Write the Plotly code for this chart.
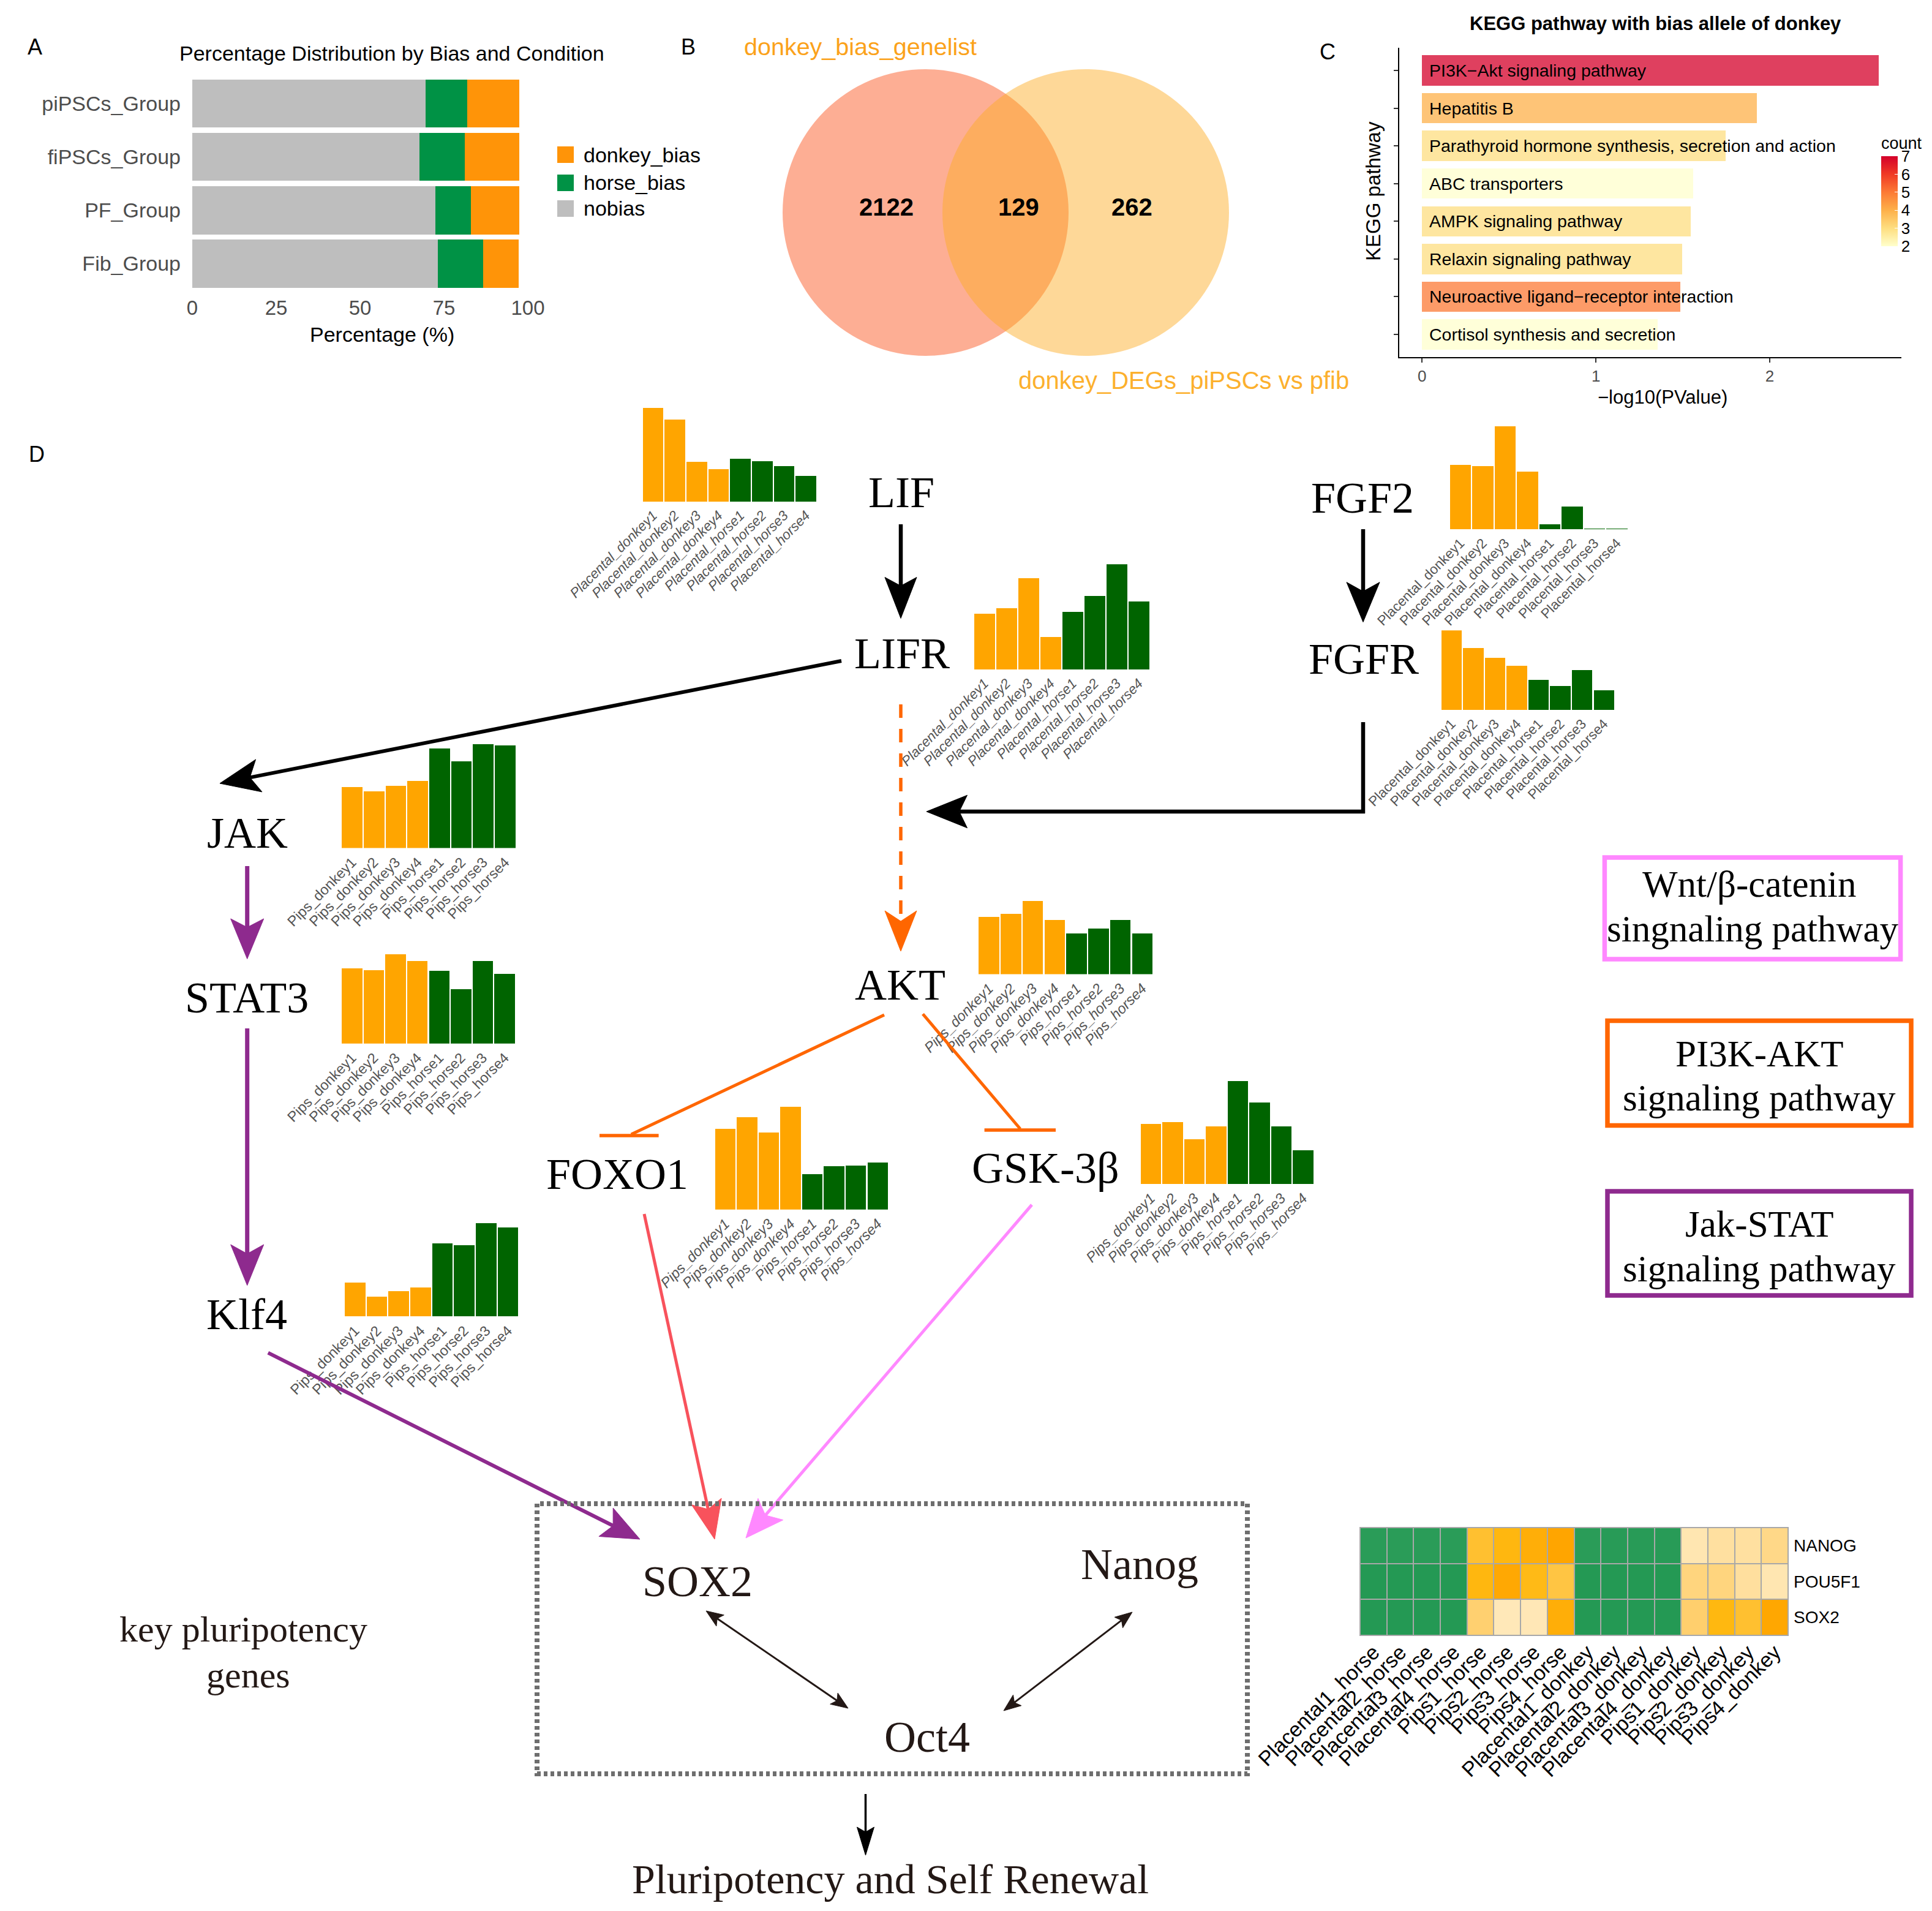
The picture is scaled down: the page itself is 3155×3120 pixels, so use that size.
import math
import plotly.graph_objects as go

# page body has an 8px margin: the figure is sized so that it exactly fills the window
OFF = 8
W, H = 3155 - OFF, 3120 - OFF
def fx(p): return (p - OFF) / W
def fy(p): return 1 - (p - OFF) / H

SANS = "Liberation Sans, Arial, Helvetica, sans-serif"
SERIF = "Liberation Serif, Times New Roman, Times, serif"
GREY30 = "#4D4D4D"

# ---------------- Panel A data ----------------
groups = ["piPSCs_Group", "fiPSCs_Group", "PF_Group", "Fib_Group"]
nobias = [69.5, 67.7, 72.4, 73.2]
horse_bias = [12.5, 13.5, 10.7, 13.5]
donkey_bias = [15.4, 16.2, 14.3, 10.6]

# ---------------- Panel B data ----------------
venn_sets = ["donkey_bias_genelist", "donkey_DEGs_piPSCs vs pfib"]
venn_counts = [2122, 129, 262]

# ---------------- Panel C data ----------------
kegg_terms = ["PI3K\u2212Akt signaling pathway", "Hepatitis B",
              "Parathyroid hormone synthesis, secretion and action",
              "ABC transporters", "AMPK signaling pathway",
              "Relaxin signaling pathway",
              "Neuroactive ligand\u2212receptor interaction",
              "Cortisol synthesis and secretion"]
kegg_logp = [2.625, 1.925, 1.745, 1.560, 1.547, 1.497, 1.485, 1.357]
kegg_count = [7, 4, 3, 2, 3, 3, 5, 2]

# ---------------- Panel D mini bar data ----------------
placental_samples = ["Placental_donkey1", "Placental_donkey2", "Placental_donkey3", "Placental_donkey4",
                     "Placental_horse1", "Placental_horse2", "Placental_horse3", "Placental_horse4"]
pips_samples = ["Pips_donkey1", "Pips_donkey2", "Pips_donkey3", "Pips_donkey4",
                "Pips_horse1", "Pips_horse2", "Pips_horse3", "Pips_horse4"]
LIF = [15.3, 13.4, 6.5, 5.3, 7.0, 6.6, 5.8, 4.2]
LIFR = [9.1, 10.0, 14.9, 5.3, 9.4, 12.0, 17.2, 11.1]
FGF2 = [10.5, 10.3, 16.8, 9.4, 0.8, 3.7, 0.03, 0.03]
FGFR = [13.0, 10.1, 8.5, 7.2, 4.9, 3.9, 6.5, 3.2]
JAK = [10.0, 9.3, 10.2, 11.0, 16.3, 14.2, 17.0, 16.8]
STAT3 = [12.3, 12.0, 14.6, 13.5, 11.9, 8.9, 13.5, 11.4]
KLF4 = [5.5, 3.2, 4.1, 4.7, 11.9, 11.6, 15.2, 14.5]
AKT = [9.4, 9.9, 12.0, 8.9, 6.7, 7.5, 8.9, 6.7]
FOXO1 = [13.2, 15.1, 12.6, 16.8, 5.8, 7.1, 7.2, 7.7]
GSK3B = [9.8, 10.1, 7.3, 9.4, 16.8, 13.3, 9.4, 5.5]

# ---------------- Heatmap data ----------------
heat_samples = ["Placental1_horse", "Placental2_horse", "Placental3_horse", "Placental4_horse",
                "Pips1_horse", "Pips2_horse", "Pips3_horse", "Pips4_horse",
                "Placental1_donkey", "Placental2_donkey", "Placental3_donkey", "Placental4_donkey",
                "Pips1_donkey", "Pips2_donkey", "Pips3_donkey", "Pips4_donkey"]
heat_genes = ["NANOG", "POU5F1", "SOX2"]
heat_NANOG = [0.06, 0.06, 0.06, 0.06, 0.65, 0.76, 0.88, 1.00, 0.06, 0.05, 0.05, 0.05, 0.18, 0.25, 0.25, 0.35]
heat_POU5F1 = [0.03, 0.03, 0.03, 0.03, 0.76, 0.96, 0.73, 0.59, 0.03, 0.03, 0.03, 0.03, 0.39, 0.39, 0.26, 0.18]
heat_SOX2 = [0.03, 0.03, 0.03, 0.03, 0.45, 0.15, 0.16, 0.88, 0.03, 0.03, 0.03, 0.03, 0.46, 0.75, 0.65, 0.98]

fig = go.Figure()
shapes = []
annos = []


def txt(x, y, s, size, family=SANS, color="black", bold=False, xanchor="center", angle=0):
    annos.append(dict(x=fx(x), y=fy(y), xref="paper", yref="paper",
                      text=f"<b>{s}</b>" if bold else s, showarrow=False,
                      xanchor=xanchor, yanchor="middle", textangle=angle,
                      font=dict(family=family, size=size, color=color)))


def line(x0, y0, x1, y1, color, width, dash=None):
    d = dict(color=color, width=width)
    if dash:
        d["dash"] = dash
    shapes.append(dict(type="line", xref="paper", yref="paper", x0=fx(x0), y0=fy(y0),
                       x1=fx(x1), y1=fy(y1), line=d, layer="above"))


def head(tx, ty, ux, uy, L, Wd, notch, color):
    px, py = -uy, ux
    pts = [(tx, ty),
           (tx - L * ux + Wd * px, ty - L * uy + Wd * py),
           (tx - (L - notch) * ux, ty - (L - notch) * uy),
           (tx - L * ux - Wd * px, ty - L * uy - Wd * py)]
    path = "M " + " L ".join(f"{fx(a):.6f},{fy(b):.6f}" for a, b in pts) + " Z"
    shapes.append(dict(type="path", xref="paper", yref="paper", path=path,
                       fillcolor=color, line=dict(color=color, width=1), layer="above"))


def arrow(x0, y0, x1, y1, color, width, L=66, Wd=27, notch=14, dash=None, double=False):
    dx, dy = x1 - x0, y1 - y0
    n = math.hypot(dx, dy)
    ux, uy = dx / n, dy / n
    ex, ey = x1 - (L - notch) * ux, y1 - (L - notch) * uy
    sx, sy = x0, y0
    if double:
        sx, sy = x0 + (L - notch) * ux, y0 + (L - notch) * uy
        head(x0, y0, -ux, -uy, L, Wd, notch, color)
    line(sx, sy, ex, ey, color, width, dash)
    head(x1, y1, ux, uy, L, Wd, notch, color)


layout = dict(width=W, height=H, autosize=False,
              margin=dict(l=0, r=0, t=0, b=0, pad=0, autoexpand=False),
              paper_bgcolor="white", plot_bgcolor="white", showlegend=False,
              barmode="stack", font=dict(family=SANS, color="black"))

# ================= Panel A =================
for name, vals, col in [("nobias", nobias, "#BEBEBE"),
                        ("horse_bias", horse_bias, "#009245"),
                        ("donkey_bias", donkey_bias, "#FF9408")]:
    fig.add_trace(go.Bar(y=groups, x=vals, orientation="h", width=0.9, name=name,
                         marker=dict(color=col, line=dict(width=0)),
                         xaxis="x", yaxis="y", hoverinfo="skip"))
layout["xaxis"] = dict(domain=[fx(314), fx(862)], range=[0, 100], tickvals=[0, 25, 50, 75, 100],
                       showgrid=False, zeroline=False, showline=False, ticks="", automargin=False,
                       tickfont=dict(size=33, color=GREY30), anchor="y", ticklabelstandoff=6)
layout["yaxis"] = dict(domain=[fy(474), fy(125.5)], type="category", categoryorder="array",
                       categoryarray=groups[::-1], range=[-0.5, 3.5], showgrid=False,
                       zeroline=False, showline=False, ticks="", automargin=False,
                       tickfont=dict(size=34, color=GREY30), anchor="x", ticklabelstandoff=18)
txt(57, 76, "A", 36)
txt(640, 87, "Percentage Distribution by Bias and Condition", 34)
txt(624, 546, "Percentage (%)", 34)
for (lab, col), (y0, y1) in zip([("donkey_bias", "#FF9408"), ("horse_bias", "#009245"), ("nobias", "#BEBEBE")],
                                [(239, 266), (285, 312), (327, 354)]):
    shapes.append(dict(type="rect", xref="paper", yref="paper", x0=fx(910), x1=fx(937),
                       y0=fy(y1), y1=fy(y0), fillcolor=col, line=dict(width=0)))
    txt(951, (y0 + y1) / 2, lab, 34, xanchor="left")

# ================= Panel B (Venn) =================
txt(1124, 77, "B", 36)
shapes.append(dict(type="circle", xref="paper", yref="paper", x0=fx(1278), x1=fx(1745),
                   y0=fy(581), y1=fy(113), fillcolor="rgba(251,83,28,0.47)", line=dict(width=0)))
shapes.append(dict(type="circle", xref="paper", yref="paper", x0=fx(1539), x1=fx(2007),
                   y0=fy(581), y1=fy(113), fillcolor="rgba(253,172,36,0.47)", line=dict(width=0)))
txt(1405, 76, venn_sets[0], 39.5, color="#FBA21B")
txt(1933, 621, venn_sets[1], 40, color="#FCB02D")
for v, xx in zip(venn_counts, [1447, 1663, 1848]):
    txt(xx, 338, str(v), 40, bold=True)

# ================= Panel C =================
cs = [[0, "#FFFFCC"], [0.2, "#FEDE80"], [0.4, "#FDB04A"], [0.6, "#FC7A35"], [0.8, "#F03A25"], [1, "#D4002A"]]
fig.add_trace(go.Bar(y=kegg_terms, x=kegg_logp, orientation="h", width=0.8,
                     marker=dict(color=kegg_count, colorscale=cs, cmin=2, cmax=7, opacity=0.75,
                                 line=dict(width=0), showscale=True,
                                 colorbar=dict(x=fx(3072), xanchor="left", y=fy(220), yanchor="top",
                                               len=182, lenmode="pixels", thickness=27,
                                               thicknessmode="pixels", outlinewidth=0,
                                               title=dict(text="count", side="top",
                                                          font=dict(size=27, color="black")),
                                               tickvals=[2, 3, 4, 5, 6, 7],
                                               tickfont=dict(size=26, color="black"),
                                               ticks="inside", ticklen=5, tickcolor="white",
                                               xpad=0, ypad=0)),
                     xaxis="x2", yaxis="y2", hoverinfo="skip"))
layout["xaxis2"] = dict(domain=[fx(2285), fx(3105)], range=[-0.131, 2.757], tickvals=[0, 1, 2],
                        showgrid=False, zeroline=False, showline=True, linecolor="black", linewidth=2,
                        ticks="outside", ticklen=7, tickwidth=2, tickcolor="#333333", automargin=False,
                        tickfont=dict(size=26, color=GREY30), anchor="y2")
layout["yaxis2"] = dict(domain=[fy(583), fy(78)], type="category", categoryorder="array",
                        categoryarray=kegg_terms, range=[7.6, -0.6], showgrid=False, zeroline=False,
                        showline=True, linecolor="black", linewidth=2, ticks="outside", ticklen=7,
                        tickwidth=2, tickcolor="#333333", showticklabels=False, anchor="x2",
                        automargin=False)
for t in kegg_terms:
    annos.append(dict(x=0, y=t, xref="x2", yref="y2", text=t, showarrow=False, xanchor="left",
                      xshift=10, yanchor="middle", font=dict(size=28.5, color="black")))
txt(2168, 84.5, "C", 36)
txt(2703, 38, "KEGG pathway with bias allele of donkey", 31, bold=True)
txt(2715, 649, "\u2212log10(PValue)", 31)
txt(2243, 312, "KEGG pathway", 33, angle=-90)

# ================= Heatmap =================
hcs = [[0, "#1E9650"], [0.08, "#2E9E5B"], [0.1, "#FFECC4"], [0.45, "#FFD070"], [0.75, "#FFB810"], [1, "#FFA500"]]
fig.add_trace(go.Heatmap(z=[heat_NANOG, heat_POU5F1, heat_SOX2], x=heat_samples, y=heat_genes,
                         colorscale=hcs, zmin=0, zmax=1, showscale=False, xgap=2, ygap=2,
                         xaxis="x3", yaxis="y3", hoverinfo="skip"))
shapes.append(dict(type="rect", xref="paper", yref="paper", x0=fx(2220), x1=fx(2921),
                   y0=fy(2671), y1=fy(2493), fillcolor="#A8A8A8", line=dict(width=0), layer="below"))
layout["xaxis3"] = dict(domain=[fx(2221), fx(2920)], tickangle=-45, ticks="", showgrid=False,
                        zeroline=False, showline=False, tickfont=dict(size=34, color="black"),
                        tickmode="array", tickvals=heat_samples, ticktext=heat_samples,
                        anchor="y3", automargin=False)
layout["yaxis3"] = dict(domain=[fy(2670), fy(2494)], autorange="reversed", side="right", ticks="",
                        showgrid=False, zeroline=False, showline=False, automargin=False,
                        tickfont=dict(size=28, color="black"), anchor="x3", ticklabelstandoff=8)

# ================= Panel D mini bars =================
ORANGE, GREEN = "#FFA500", "#006400"
mini = [  # values, samples, left, right, baseline, italic
    (LIF, placental_samples, 1048.7, 1334.0, 818.9, True),
    (LIFR, placental_samples, 1589.7, 1877.7, 1093.3, True),
    (FGF2, placental_samples, 2366.7, 2658.7, 864.1, False),
    (FGFR, placental_samples, 2352.6, 2637.0, 1159.2, False),
    (JAK, pips_samples, 557.2, 842.7, 1384.5, False),
    (STAT3, pips_samples, 557.2, 841.9, 1703.7, False),
    (KLF4, pips_samples, 562.1, 847.3, 2149.1, False),
    (AKT, pips_samples, 1597.3, 1883.2, 1590.5, True),
    (FOXO1, pips_samples, 1166.8, 1451.0, 1974.7, True),
    (GSK3B, pips_samples, 1861.6, 2145.7, 1933.0, True),
]
for i, (vals, samples, l, r, base, ital) in enumerate(mini):
    k = i + 4
    fig.add_trace(go.Bar(x=samples, y=vals, width=0.94,
                         marker=dict(color=[ORANGE] * 4 + [GREEN] * 4, line=dict(width=0)),
                         xaxis=f"x{k}", yaxis=f"y{k}", hoverinfo="skip"))
    top = base - 10 * max(vals)
    tf = dict(family=SANS, size=23.5 if samples is pips_samples else 22.5, color="#555555")
    if ital:
        tf["style"] = "italic"
    layout[f"xaxis{k}"] = dict(domain=[fx(l), fx(r)], tickangle=-45, ticks="", showgrid=False,
                               zeroline=False, showline=False, tickfont=tf, anchor=f"y{k}",
                               tickmode="array", tickvals=samples, ticktext=samples,
                               ticklabelstandoff=4, automargin=False)
    layout[f"yaxis{k}"] = dict(domain=[fy(base), fy(top)], range=[0, max(vals)], visible=False,
                               anchor=f"x{k}", automargin=False)

txt(60, 741, "D", 36)

# node labels
for s, x, y in [("LIF", 1472, 804), ("LIFR", 1472.5, 1067), ("FGF2", 2225, 812.5), ("FGFR", 2227, 1076),
                ("JAK", 404, 1360.5), ("STAT3", 403, 1629), ("Klf4", 403, 2145.5), ("AKT", 1470, 1608),
                ("FOXO1", 1008, 1917), ("GSK-3\u03b2", 1707, 1907)]:
    txt(x, y, s, 72, family=SERIF)
DARK = "#231815"
for s, x, y in [("SOX2", 1138.5, 2582), ("Nanog", 1861, 2553.5), ("Oct4", 1514, 2836)]:
    txt(x, y, s, 72, family=SERIF, color=DARK)
txt(397, 2660, "key pluripotency", 60, family=SERIF, color=DARK)
txt(405, 2735, "genes", 60, family=SERIF, color=DARK)
txt(1454, 3068, "Pluripotency and Self Renewal", 68, family=SERIF, color=DARK)

# pathway legend boxes
PINK, ORG, PURP = "#FF88FF", "#FF6600", "#8E2A8E"
for (x0, y0, x1, y1), col in [((2620.4, 1400, 3103.6, 1566), PINK),
                              ((2625, 1666.5, 3121, 1837.6), ORG),
                              ((2625, 1945, 3121, 2115), PURP)]:
    shapes.append(dict(type="rect", xref="paper", yref="paper", x0=fx(x0), x1=fx(x1),
                       y0=fy(y1), y1=fy(y0), line=dict(color=col, width=7.5), layer="above"))
for s, x, y in [("Wnt/\u03b2-catenin", 2856.5, 1444), ("singnaling pathway", 2862, 1516),
                ("PI3K-AKT", 2873, 1720), ("signaling pathway", 2873, 1792.6),
                ("Jak-STAT", 2873, 1998.5), ("signaling pathway", 2873, 2071)]:
    txt(x, y, s, 61, family=SERIF)

# arrows
arrow(1471, 856, 1471, 1009.5, "black", 6.5, L=67, Wd=26, notch=14)
arrow(1374, 1079, 359, 1279, "black", 6, L=65, Wd=27, notch=15)
arrow(1471, 1150, 1471, 1553, ORG, 5.5, L=66, Wd=26, notch=17, dash="22px,18px")
arrow(2226, 864, 2226, 1015.6, "black", 6.5, L=65, Wd=27, notch=15)
line(2226, 1179, 2226, 1328, "black", 6.5)
arrow(2229, 1325, 1513, 1325, "black", 6.5, L=66.5, Wd=26.7, notch=13)
arrow(403.7, 1414, 403.7, 1565.5, PURP, 7, L=65.5, Wd=27, notch=14)
arrow(403.7, 1679, 403.7, 2098.6, PURP, 7, L=66.6, Wd=27, notch=15)
arrow(437.8, 2208.6, 1045, 2513, PURP, 6, L=62, Wd=26, notch=13)
arrow(1052, 1982, 1167, 2513, "#F8525C", 5, L=63, Wd=25, notch=13)
arrow(1685, 1967, 1218, 2511, PINK, 5, L=62, Wd=27, notch=13)
arrow(1153, 2630, 1385, 2789, DARK, 3, L=28, Wd=11, notch=6, double=True)
arrow(1849, 2632, 1639, 2793, DARK, 3, L=28, Wd=11, notch=6, double=True)
arrow(1413.5, 2929, 1413.5, 3029, "black", 3.5, L=46, Wd=14, notch=8)

# inhibition (T-bar) edges
line(1444, 1657, 1030.8, 1852, ORG, 5)
line(979, 1854, 1075.6, 1854, ORG, 5.5)
line(1507, 1655.5, 1666, 1843, ORG, 5)
line(1607.6, 1845, 1724, 1845, ORG, 5.5)

# dotted box around the core genes
shapes.append(dict(type="rect", xref="paper", yref="paper", x0=fx(877), x1=fx(2037),
                   y0=fy(2896), y1=fy(2455), line=dict(color="#6E6E6E", width=8, dash="6px,5px"),
                   layer="above"))

layout["shapes"] = shapes
layout["annotations"] = annos
fig.update_layout(**layout)
fig.write_html("out.html")
